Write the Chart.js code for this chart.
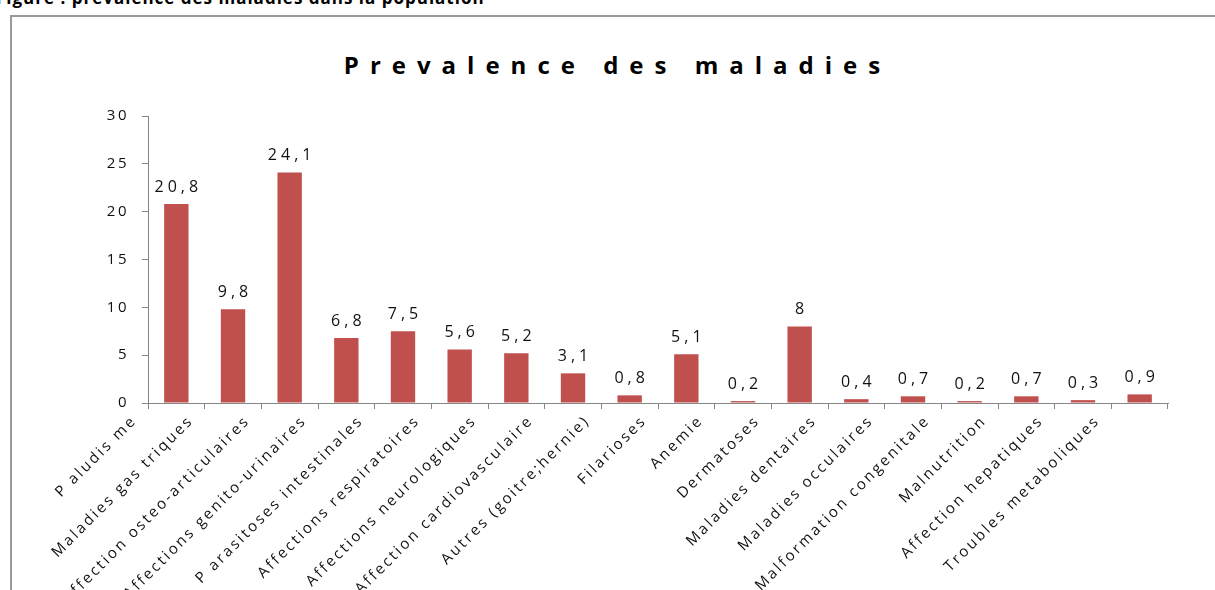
<!DOCTYPE html>
<html>
<head>
<meta charset="utf-8">
<script src="https://cdn.jsdelivr.net/npm/chart.js@4/dist/chart.umd.min.js"></script>
<style>
  html, body { margin: 0; padding: 0; background: #fff; overflow: hidden; }
  body { width: 1215px; height: 590px; position: relative; }
  #caption {
    position: absolute; left: -4px; top: -14px; letter-spacing: 1px;
    font: bold 17px "Open Sans", sans-serif; color: #000; white-space: nowrap;
  }
  #box {
    position: absolute; left: 10px; top: 15px; width: 1230px; height: 660px;
    border: 2px solid #9a9a9a; box-sizing: border-box;
  }
  #title {
    position: absolute; left: 0; width: 1235px; top: 48px; text-align: center;
    font: bold 24px "Open Sans", sans-serif; letter-spacing: 11px; color: #000;
  }
  #wrap { position: absolute; left: 12px; top: 16px; width: 1210px; height: 640px; }
</style>
</head>
<body>
<div id="caption">Figure : prevalence des maladies dans la population</div>
<div id="box"></div>
<div id="title">Prevalence des maladies</div>
<div id="wrap"><canvas id="chart"></canvas></div>
<script>
// maladies (axe x)
const categories = [
  'P aludis me', 'Maladies gas triques', 'Affection osteo-articulaires',
  'Affections genito-urinaires', 'P arasitoses intestinales', 'Affections respiratoires',
  'Affections neurologiques', 'Affection cardiovasculaire', 'Autres (goitre;hernie)',
  'Filarioses', 'Anemie', 'Dermatoses', 'Maladies dentaires', 'Maladies occulaires',
  'Malformation congenitale', 'Malnutrition', 'Affection hepatiques', 'Troubles metaboliques'
];
// prevalence en %
const prevalence = [20.8, 9.8, 24.1, 6.8, 7.5, 5.6, 5.2, 3.1, 0.8, 5.1, 0.2, 8, 0.4, 0.7, 0.2, 0.7, 0.3, 0.9];
const yTicks = [0, 5, 10, 15, 20, 25, 30];

const axisGray = '#868686';

// texte espacé comme dans l'original
const spacing = {
  id: 'spacing',
  beforeUpdate(chart) { chart.ctx.letterSpacing = '2.5px'; },
  beforeDraw(chart) { chart.ctx.letterSpacing = '2.5px'; }
};

const valueLabels = {
  id: 'valueLabels',
  afterDatasetsDraw(chart) {
    const ctx = chart.ctx;
    const meta = chart.getDatasetMeta(0);
    ctx.save();
    ctx.letterSpacing = '4px';
    ctx.font = '16px "Open Sans", sans-serif';
    ctx.fillStyle = '#111';
    ctx.textAlign = 'center';
    ctx.textBaseline = 'alphabetic';
    meta.data.forEach((bar, i) => {
      const txt = String(prevalence[i]).replace('.', ',');
      ctx.fillText(txt, bar.x + 2, bar.y - 12);
    });
    ctx.restore();
  }
};

new Chart(document.getElementById('chart'), {
  type: 'bar',
  data: {
    labels: categories,
    datasets: [{
      data: prevalence,
      backgroundColor: '#C0504D',
      categoryPercentage: 1,
      barPercentage: 0.43
    }]
  },
  options: {
    responsive: true,
    maintainAspectRatio: false,
    animation: false,
    layout: { padding: { top: 100, right: 54, left: 0, bottom: 0 } },
    plugins: { legend: { display: false }, title: { display: false }, tooltip: { enabled: false } },
    scales: {
      x: {
        grid: { drawOnChartArea: false, drawTicks: true, tickLength: 6, color: axisGray, offset: true },
        border: { color: axisGray, width: 1 },
        ticks: {
          autoSkip: false, minRotation: 45, maxRotation: 45, padding: 3, labelOffset: -42,
          color: '#111', font: { family: 'Open Sans', size: 15 }
        },
        afterFit(scale) { scale.height = 253; }
      },
      y: {
        min: 0, max: 30,
        afterBuildTicks(scale) { scale.ticks = yTicks.map(v => ({ value: v })); },
        grid: { drawOnChartArea: false, drawTicks: true, tickLength: 6, color: axisGray },
        border: { color: axisGray, width: 1 },
        ticks: {
          padding: 13, color: '#111', font: { family: 'Open Sans', size: 15 }
        },
        afterFit(scale) { scale.width = 136; }
      }
    }
  },
  plugins: [spacing, valueLabels]
});
</script>
</body>
</html>
